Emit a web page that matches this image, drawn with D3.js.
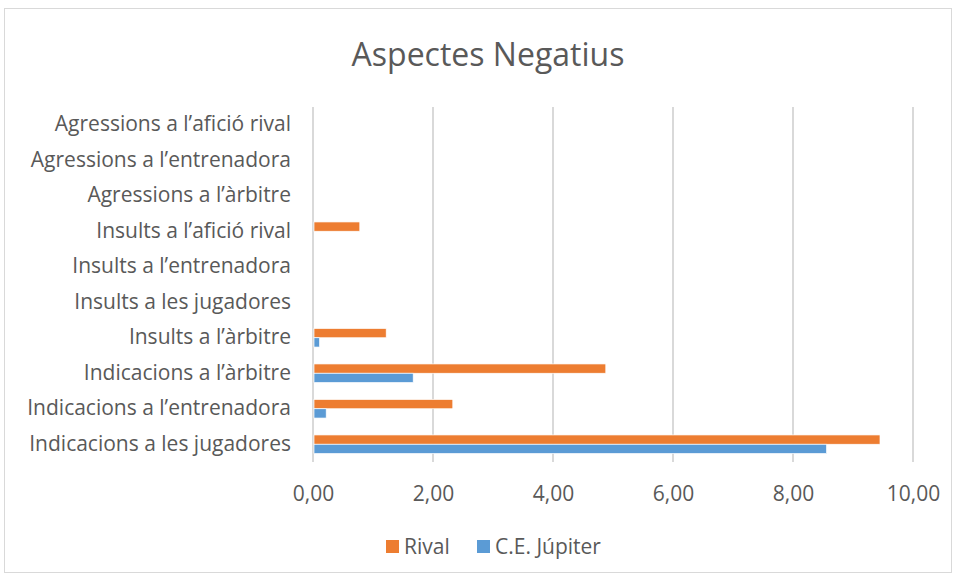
<!DOCTYPE html>
<html>
<head>
<meta charset="utf-8">
<script src="https://cdn.jsdelivr.net/npm/d3@7"></script>
<style>
  body { margin: 0; background: #fff; }
  text { font-family: "Open Sans", sans-serif; fill: #595959; }
</style>
</head>
<body>
<div id="chart"></div>
<script>
// categories, bottom to top as in the picture
const categories = [
  "Indicacions a les jugadores",
  "Indicacions a l’entrenadora",
  "Indicacions a l’àrbitre",
  "Insults a l’àrbitre",
  "Insults a les jugadores",
  "Insults a l’entrenadora",
  "Insults a l’afició rival",
  "Agressions a l’àrbitre",
  "Agressions a l’entrenadora",
  "Agressions a l’afició rival"
];
const rival   = [9.45, 2.33, 4.88, 1.22, 0, 0, 0.78, 0, 0, 0];
const jupiter = [8.56, 0.22, 1.67, 0.11, 0, 0, 0, 0, 0, 0];
const seriesNames = ["Rival", "C.E. Júpiter"];
const seriesColors = ["#ED7D31", "#5B9BD5"];
const xTicks = [0, 2, 4, 6, 8, 10];

const W = 956, H = 577;
const margin = {top: 107, right: 43, bottom: 115, left: 313};
const width = W - margin.left - margin.right,
      height = H - margin.top - margin.bottom;

const svg = d3.select("#chart").append("svg")
    .attr("width", W).attr("height", H);

// chart border
svg.append("rect")
    .attr("x", 4.5).attr("y", 8.5)
    .attr("width", W - 9).attr("height", H - 13)
    .attr("fill", "#fff").attr("stroke", "#d9d9d9");

// title
svg.append("text")
    .attr("x", 488).attr("y", 66)
    .attr("text-anchor", "middle")
    .attr("font-size", "32px")
    .text("Aspectes Negatius");

const g = svg.append("g")
    .attr("transform", "translate(" + margin.left + "," + margin.top + ")");

const xScale = d3.scaleLinear().domain([0, 10]).range([0, width]);
// top of the chart is the last category
const yScale = d3.scaleBand().domain(categories.slice().reverse())
    .range([0, height]).paddingInner(0.476).paddingOuter(0.238);
const ySub = d3.scaleBand().domain(seriesNames).range([0, yScale.bandwidth()]);

// gridlines
g.selectAll(".grid").data(xTicks).enter().append("line")
    .attr("x1", d => xScale(d)).attr("x2", d => xScale(d))
    .attr("y1", 0).attr("y2", height)
    .attr("stroke", "#d9d9d9").attr("stroke-width", 2);

// x axis labels
const xAxis = g.append("g")
    .attr("transform", "translate(0," + height + ")")
    .call(d3.axisBottom(xScale).tickValues(xTicks)
        .tickFormat(d => d3.format(".2f")(d).replace(".", ","))
        .tickSize(0).tickPadding(24));
xAxis.select(".domain").remove();
xAxis.selectAll("text").attr("font-size", "21px").attr("font-family", "Open Sans").attr("fill", "#595959");

// y axis labels
const yAxis = g.append("g")
    .call(d3.axisLeft(yScale).tickSize(0).tickPadding(22));
yAxis.select(".domain").remove();
yAxis.selectAll("text").attr("font-size", "21px").attr("font-family", "Open Sans").attr("fill", "#595959");

// bars
const rows = categories.map((c, i) => ({cat: c, vals: [rival[i], jupiter[i]]}));
const grp = g.selectAll(".grp").data(rows).enter().append("g")
    .attr("transform", d => "translate(0," + yScale(d.cat) + ")");
grp.selectAll("rect").data(d => d.vals.map((v, j) => ({s: seriesNames[j], v: v, c: seriesColors[j]})))
  .enter().append("rect")
    .attr("x", xScale(0) + 1)
    .attr("y", d => ySub(d.s))
    .attr("width", d => Math.max(0, xScale(d.v) - xScale(0) - 1))
    .attr("height", ySub.bandwidth())
    .attr("fill", d => d.c)
    .attr("stroke", "#fff").attr("stroke-width", 0.7);

// legend
const legendX = [386, 477];
const lg = svg.selectAll(".lg").data(seriesNames).enter().append("g")
    .attr("transform", (d, i) => "translate(" + legendX[i] + ",540)");
lg.append("rect").attr("width", 13).attr("height", 13)
    .attr("fill", (d, i) => seriesColors[i]);
lg.append("text").attr("x", 18).attr("y", 13.5)
    .attr("font-size", "21px").text(d => d);
</script>
</body>
</html>
